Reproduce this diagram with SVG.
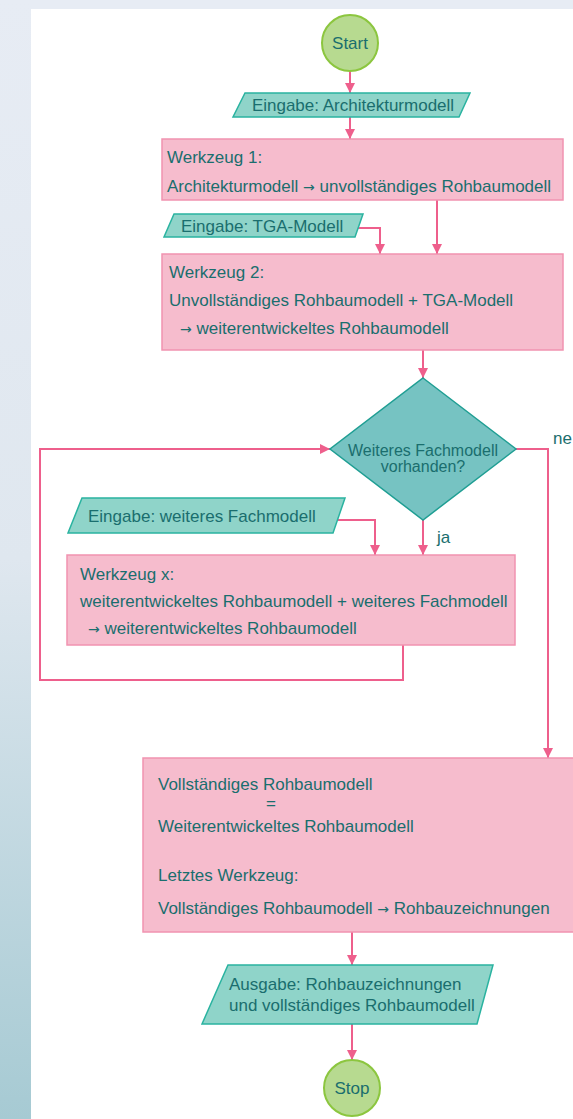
<svg xmlns="http://www.w3.org/2000/svg" width="573" height="1119" viewBox="0 0 573 1119">
<defs>
<linearGradient id="side" x1="0" y1="0" x2="0" y2="1">
<stop offset="0" stop-color="#e7ecf4"/>
<stop offset="0.5" stop-color="#dfe7ef"/>
<stop offset="1" stop-color="#a6cad3"/>
</linearGradient>
<marker id="ah" viewBox="0 0 10 10" refX="10" refY="5" markerWidth="10" markerHeight="10" markerUnits="userSpaceOnUse" orient="auto">
<path d="M0,0 L10,5 L0,10 z" fill="#ee5f8c"/>
</marker>
<style>
.t{font-family:"Liberation Sans",Arial,sans-serif;font-size:17px;fill:#1a6e6e}
.ar{font-family:"DejaVu Sans",sans-serif;font-size:14px}
.dt{font-size:16px}
.box{fill:#f6bccd;stroke:#f193b0;stroke-width:1.5}
.io{fill:#8fd4c9;stroke:#2ab3a0;stroke-width:1.5}
.dec{fill:#76c3c2;stroke:#1f9e93;stroke-width:1.5}
.term{fill:#b7da90;stroke:#8cc63f;stroke-width:2}
.c{fill:none;stroke:#ee5f8c;stroke-width:2}
</style>
</defs>
<rect x="0" y="0" width="573" height="1119" fill="#e7ecf4"/>
<rect x="0" y="0" width="31" height="1119" fill="url(#side)"/>
<rect x="31" y="9" width="542" height="1110" fill="#ffffff"/>

<g id="connectors">
<line class="c" x1="350" y1="71" x2="350" y2="93" marker-end="url(#ah)"/>
<line class="c" x1="350" y1="117" x2="350" y2="139" marker-end="url(#ah)"/>
<line class="c" x1="437" y1="200" x2="437" y2="254" marker-end="url(#ah)"/>
<polyline class="c" points="355,228 380,228 380,254" marker-end="url(#ah)"/>
<line class="c" x1="423" y1="350" x2="423" y2="378" marker-end="url(#ah)"/>
<polyline class="c" points="516,449 548,449 548,758" marker-end="url(#ah)"/>
<line class="c" x1="423" y1="520" x2="423" y2="555" marker-end="url(#ah)"/>
<polyline class="c" points="334,520 375,520 375,555" marker-end="url(#ah)"/>
<polyline class="c" points="403,645 403,680 40,680 40,449 330,449" marker-end="url(#ah)"/>
<line class="c" x1="352" y1="932" x2="352" y2="965" marker-end="url(#ah)"/>
<line class="c" x1="352" y1="1024" x2="352" y2="1060" marker-end="url(#ah)"/>
<text class="t" x="437" y="543">ja</text>
<text class="t" x="553" y="444">ne</text>
</g>

<g id="start">
<circle class="term" cx="350" cy="43" r="28"/>
<text class="t" x="350" y="49" text-anchor="middle">Start</text>
</g>

<g id="input-arch">
<polygon class="io" points="245,93 470,93 459,117 233,117"/>
<text class="t" x="353" y="111" text-anchor="middle">Eingabe: Architekturmodell</text>
</g>

<g id="tool1">
<rect class="box" x="162" y="139" width="401" height="61"/>
<text class="t" x="167" y="163">Werkzeug 1:</text>
<text class="t" x="167" y="192">Architekturmodell <tspan class="ar">→</tspan> unvollständiges Rohbaumodell</text>
</g>

<g id="input-tga">
<polygon class="io" points="174,214 363,214 355,237 164,237"/>
<text class="t" x="181" y="232">Eingabe: TGA-Modell</text>
</g>

<g id="tool2">
<rect class="box" x="162" y="254" width="401" height="96"/>
<text class="t" x="169" y="278">Werkzeug 2:</text>
<text class="t" x="169" y="306">Unvollständiges Rohbaumodell + TGA-Modell</text>
<text class="t" x="180" y="334"><tspan class="ar">→</tspan> weiterentwickeltes Rohbaumodell</text>
</g>

<g id="decision">
<polygon class="dec" points="423,378 516,449 423,520 330,449"/>
<text class="t dt" x="423" y="456" text-anchor="middle">Weiteres Fachmodell</text>
<text class="t dt" x="423" y="472" text-anchor="middle">vorhanden?</text>
</g>

<g id="input-fach">
<polygon class="io" points="82,498 345,498 333,533 68,533"/>
<text class="t" x="88" y="522">Eingabe: weiteres Fachmodell</text>
</g>

<g id="toolx">
<rect class="box" x="67" y="555" width="448" height="90"/>
<text class="t" x="80" y="580">Werkzeug x:</text>
<text class="t" x="80" y="607">weiterentwickeltes Rohbaumodell + weiteres Fachmodell</text>
<text class="t" x="88" y="634"><tspan class="ar">→</tspan> weiterentwickeltes Rohbaumodell</text>
</g>

<g id="final">
<rect class="box" x="143" y="758" width="431" height="174"/>
<text class="t" x="158" y="790">Vollständiges Rohbaumodell</text>
<text class="t" x="271" y="809" text-anchor="middle">=</text>
<text class="t" x="158" y="832">Weiterentwickeltes Rohbaumodell</text>
<text class="t" x="158" y="881">Letztes Werkzeug:</text>
<text class="t" x="158" y="914">Vollständiges Rohbaumodell <tspan class="ar">→</tspan> Rohbauzeichnungen</text>
</g>

<g id="output">
<polygon class="io" points="228,965 493,965 477,1024 202,1024"/>
<text class="t" x="229" y="990">Ausgabe: Rohbauzeichnungen</text>
<text class="t" x="229" y="1011">und vollständiges Rohbaumodell</text>
</g>

<g id="stop">
<circle class="term" cx="352" cy="1088" r="28"/>
<text class="t" x="352" y="1094" text-anchor="middle">Stop</text>
</g>
</svg>
